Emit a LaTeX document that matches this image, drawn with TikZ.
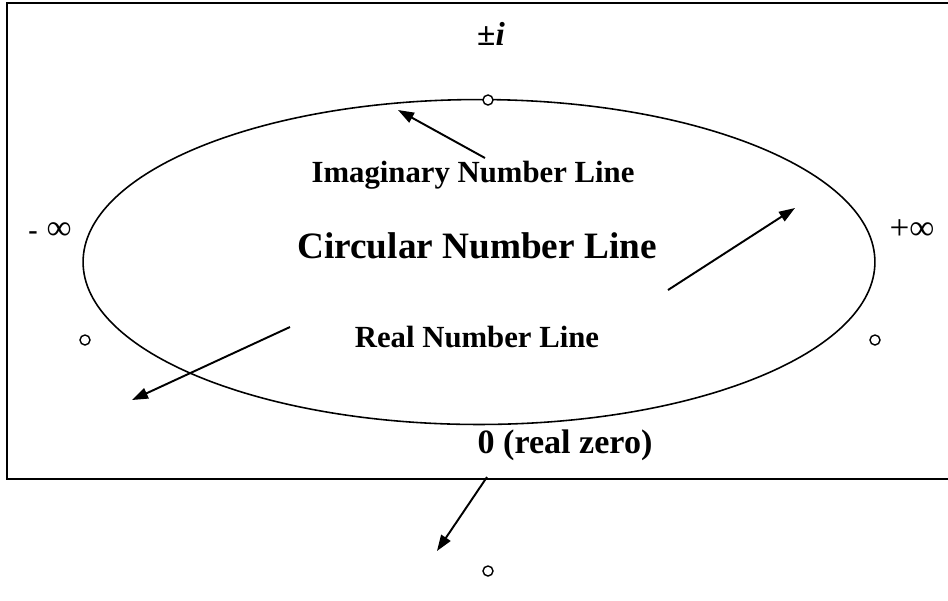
\documentclass[tikz,border=0pt]{standalone}
\usepackage{fontspec}
\setmainfont{Liberation Serif}
\usetikzlibrary{arrows.meta,positioning,shapes.geometric}
\tikzset{
  pointer/.style={line width=1.1pt,-{Triangle[length=3.2mm,width=2.2mm]}},
  dot/.style={circle,draw,line width=0.8pt,minimum size=2mm,inner sep=0pt,fill=white},
  label/.style={anchor=base,inner sep=0pt,font=\bfseries\fontsize{17.5}{20}\selectfont},
  inflabel/.style={anchor=base,inner sep=0pt,font=\fontsize{20}{22}\selectfont}
}

\begin{document}
\begin{tikzpicture}[x=0.02cm,y=-0.02cm]
  \useasboundingbox (0,0) rectangle (948,600);
  \clip (0,0) rectangle (948,600);
  \draw[line width=1.1pt] (7,3) rectangle (960,479);
  \node[ellipse,draw,line width=0.9pt,minimum width=15.84cm,minimum height=6.5cm,inner sep=0pt] (ring) at (479,262) {};
  % points on the circle
  \node[dot] (top) at (488,100) {};
  \node[dot] (left) at (85,340) {};
  \node[dot] (right) at (875,340) {};
  \node[dot] (zero) at (488,571) {};
  % labels
  \node[anchor=base,inner sep=0pt,font=\fontsize{19}{22}\selectfont] (pmi) at (491,45) {\textbf{±\textit{i}}};
  \node[label] (imag) at (473,182) {Imaginary Number Line};
  \node[label,font=\bfseries\fontsize{21.2}{24}\selectfont] (circ) at (477,258) {Circular Number Line};
  \node[label] (real) at (477,347) {Real Number Line};
  \node[label,font=\bfseries\fontsize{19.4}{22}\selectfont] (zlab) at (565,453) {0 (real zero)};
  \node[inflabel] (minf) at (50,239) {{\bfseries\fontsize{16}{18}\selectfont -} ∞};
  \node[inflabel] (pinf) at (912,239) {+∞};
  % arrows
  \coordinate (a1) at (485,158);
  \coordinate (a1e) at (398,110);
  \coordinate (a2) at (668,290);
  \coordinate (a2e) at (795,208);
  \coordinate (a3) at (290,327);
  \coordinate (a3e) at (132,400);
  \coordinate (a4) at (487,477);
  \coordinate (a4e) at (437,551);
  \draw[pointer] (a1) -- (a1e);
  \draw[pointer] (a2) -- (a2e);
  \draw[pointer] (a3) -- (a3e);
  \draw[pointer] (a4) -- (a4e);
\end{tikzpicture}
\end{document}
